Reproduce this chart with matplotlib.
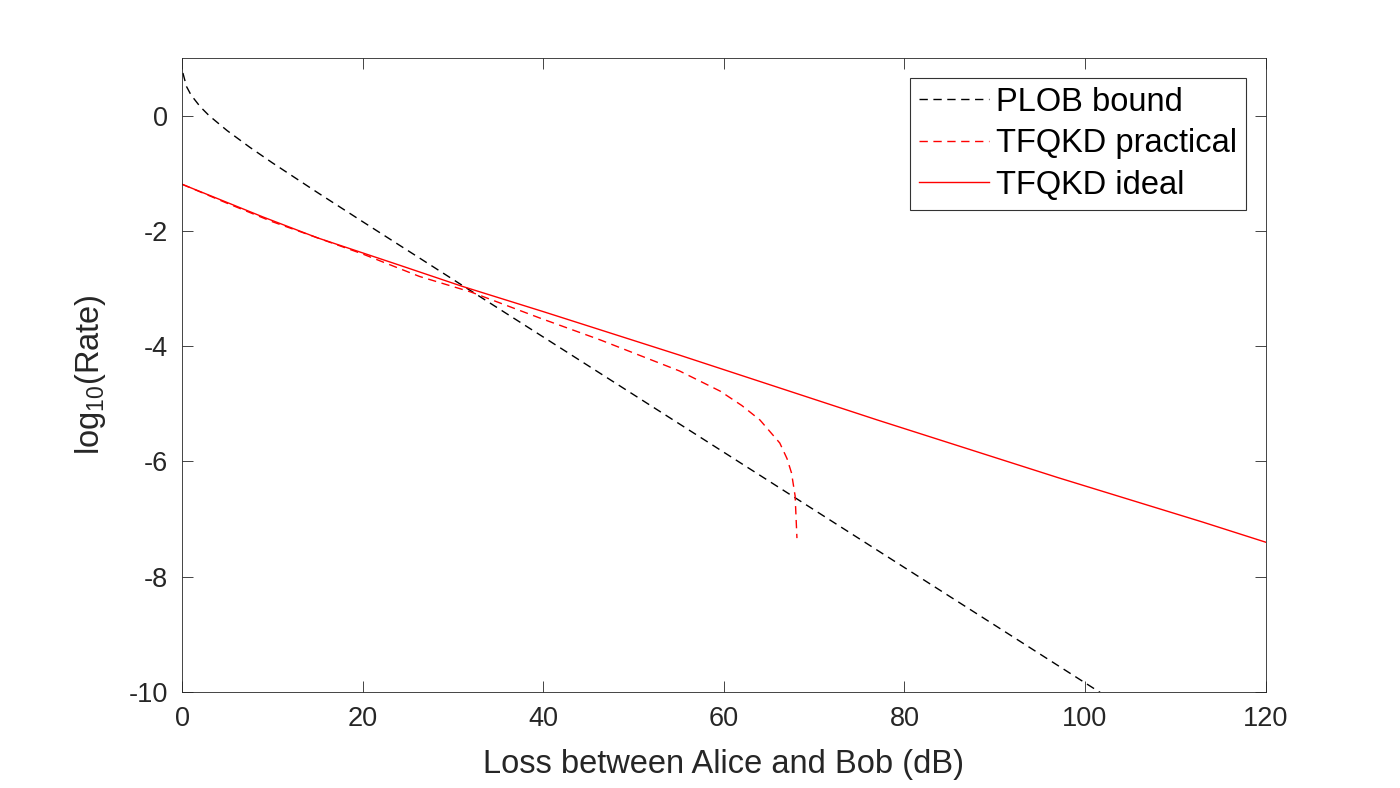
import numpy as np
import matplotlib.pyplot as plt

plt.rcParams['font.family'] = ['Liberation Sans', 'DejaVu Sans']
plt.rcParams['axes.unicode_minus'] = False

# values
loss_plob = [0.1, 0.5, 1, 2, 3, 5, 7.5, 10, 15, 20, 30, 40, 50, 60, 70, 80, 90, 100, 102]
rate_plob = [0.74, 0.505, 0.358, 0.158, 0.0, -0.26, -0.548, -0.818, -1.334, -1.839,
             -2.841, -3.84, -4.84, -5.84, -6.84, -7.84, -8.84, -9.84, -10.04]

loss_ideal = [0, 3, 6, 9, 15, 24, 31, 40, 55, 77, 97, 113, 120]
rate_ideal = [-1.19, -1.38, -1.57, -1.76, -2.12, -2.59, -2.96, -3.40, -4.15, -5.28, -6.28, -7.05, -7.40]

loss_prac = [0, 5, 10, 20, 26.3, 32, 39.6, 46.3, 55.1, 59.6, 62, 64, 66.2, 67, 67.5, 67.9, 68.1]
rate_prac = [-1.19, -1.52, -1.84, -2.40, -2.79, -3.06, -3.51, -3.89, -4.43, -4.78, -5.03,
             -5.28, -5.68, -5.95, -6.2, -6.6, -7.33]

fig = plt.figure(figsize=(14, 7.88), dpi=100)
ax = fig.add_axes([0.13, 0.1218, 0.774, 0.8046])

ax.plot(loss_plob, rate_plob, color='k', ls=(0, (6, 4)), lw=1, label='PLOB bound')
ax.plot(loss_prac, rate_prac, color='r', ls=(0, (6, 4)), lw=1, label='TFQKD practical')
ax.plot(loss_ideal, rate_ideal, color='r', ls='-', lw=1, label='TFQKD ideal')

ax.set_xlim(0, 120)
ax.set_ylim(-10, 1)
ax.set_xticks(np.arange(0, 121, 20))
ax.set_yticks(np.arange(-10, 1, 2))
ax.tick_params(direction='in', top=True, right=True, length=8, width=0.6,
               labelsize=19.5, colors='#262626', pad=10)
for s in ax.spines.values():
    s.set_linewidth(0.6)
    s.set_color('#262626')

ax.set_xlabel('Loss between Alice and Bob (dB)', fontsize=23.5, color='#262626', labelpad=12)
ax.set_ylabel(r'$\mathregular{log_{10}}$(Rate)', fontsize=23.5, color='#262626', labelpad=15)

leg = ax.legend(loc='upper right', fontsize=23.5, frameon=True, fancybox=False,
                edgecolor='k', handlelength=2.15, borderaxespad=0.6,
                labelspacing=0.32, borderpad=0.28, handletextpad=0.2)
leg.get_frame().set_linewidth(0.8)

fig.savefig('out.png', dpi=100)
